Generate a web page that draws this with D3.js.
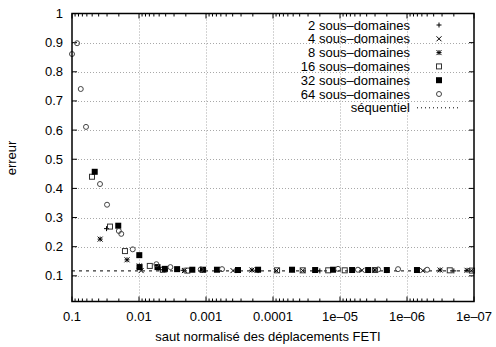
<!DOCTYPE html>
<html>
<head>
<meta charset="utf-8">
<script src="https://cdn.jsdelivr.net/npm/d3@7"></script>
<style>
  body { margin: 0; background: #fff; }
  svg { display: block; font-family: "Liberation Sans", Arial, sans-serif; }
</style>
</head>
<body>
<div id="chart"></div>
<script>
const width = 496;
const height = 347;

// données : [saut, erreur]
const sd2 = [[0.0305, 0.262], [0.0099, 0.128], [0.0048, 0.121], [0.0022, 0.119], [1.67e-4, 0.118],
  [2.0e-5, 0.117], [2.0e-6, 0.118], [2.0e-7, 0.117]];
const sd4 = [[0.0093, 0.118], [0.0021, 0.118], [3.95e-4, 0.118], [8.9e-5, 0.118], [3.6e-5, 0.118],
  [4.7e-6, 0.119], [5.8e-7, 0.118], [1.1e-7, 0.118]];
const sd8 = [[0.038, 0.226], [0.0151, 0.155], [0.0099, 0.134], [0.0042, 0.12], [0.00113, 0.12],
  [2.06e-4, 0.12], [5.2e-5, 0.121], [3.0e-6, 0.12], [3.2e-7, 0.12], [1.27e-7, 0.119]];
const sd16 = [[0.0503, 0.44], [0.0271, 0.269], [0.0162, 0.185], [0.0069, 0.134], [0.0044, 0.121],
  [0.0019, 0.118], [8.7e-5, 0.119], [3.6e-5, 0.119], [1.5e-5, 0.119], [8.5e-6, 0.119],
  [3.0e-6, 0.12], [2.3e-7, 0.119], [1.07e-7, 0.118]];
const sd32 = [[0.0458, 0.457], [0.0204, 0.272], [0.0099, 0.171], [0.0098, 0.13], [0.0053, 0.13],
  [0.0041, 0.124], [0.0027, 0.123], [0.0016, 0.121], [1.11e-3, 0.121], [6.86e-4, 0.121],
  [3.33e-4, 0.12], [1.67e-4, 0.121], [5.2e-5, 0.121], [2.35e-5, 0.12], [1.27e-5, 0.121],
  [6.6e-6, 0.12], [3.8e-6, 0.12], [2.0e-6, 0.12], [7.1e-7, 0.12]];
const sd64 = [[0.1, 0.861], [0.084, 0.898], [0.074, 0.741], [0.0618, 0.611], [0.0382, 0.415],
  [0.030, 0.344], [0.020, 0.254], [0.0184, 0.244], [0.0124, 0.191], [0.0055, 0.14],
  [0.0034, 0.13], [0.0012, 0.122], [5.77e-4, 0.123], [1.07e-5, 0.124], [5.4e-6, 0.121],
  [2.7e-6, 0.122], [1.36e-6, 0.123], [5.0e-7, 0.121]];
const sequentiel = 0.117;

const xTicks = [0.1, 0.01, 0.001, 0.0001, 1e-5, 1e-6, 1e-7];
const xTickLabels = ["0.1", "0.01", "0.001", "0.0001", "1e\u201305", "1e\u201306", "1e\u201307"];
const yTicks = [0.1, 0.2, 0.3, 0.4, 0.5, 0.6, 0.7, 0.8, 0.9, 1];
const yTickLabels = ["0.1", "0.2", "0.3", "0.4", "0.5", "0.6", "0.7", "0.8", "0.9", "1"];

const series = [
  { name: "2 sous\u2013domaines", data: sd2, shape: "plus" },
  { name: "4 sous\u2013domaines", data: sd4, shape: "cross" },
  { name: "8 sous\u2013domaines", data: sd8, shape: "star" },
  { name: "16 sous\u2013domaines", data: sd16, shape: "box" },
  { name: "32 sous\u2013domaines", data: sd32, shape: "fbox" },
  { name: "64 sous\u2013domaines", data: sd64, shape: "circle" }
];

const L = 72, R = 474, T = 13.5, B = 301.5;

const x = d3.scaleLog().domain([0.1, 1e-7]).range([L, R]);
const y = d3.scaleLinear().domain([0.012, 1]).range([B, T]);

const svg = d3.select("#chart").append("svg")
  .attr("width", width).attr("height", height);

// grille
const grid = svg.append("g").attr("stroke", "#a8a8a8").attr("stroke-width", 1)
  .attr("stroke-dasharray", "1,2");
grid.selectAll(".gx").data(xTicks.slice(1, -1)).join("line")
  .attr("x1", d => Math.round(x(d)) + 0.5).attr("x2", d => Math.round(x(d)) + 0.5)
  .attr("y1", T).attr("y2", B);
grid.selectAll(".gy").data(yTicks.slice(0, -1)).join("line")
  .attr("x1", L).attr("x2", R)
  .attr("y1", d => Math.round(y(d)) + 0.5).attr("y2", d => Math.round(y(d)) + 0.5);

// ligne séquentielle
svg.append("line")
  .attr("x1", L).attr("x2", R)
  .attr("y1", y(sequentiel)).attr("y2", y(sequentiel))
  .attr("stroke", "#000").attr("stroke-width", 1).attr("stroke-dasharray", "3,4");

// graduations
const minor = [];
for (let e = -7; e < -1; e++) for (let m = 2; m <= 9; m++) minor.push(m * Math.pow(10, e));
const ticks = svg.append("g").attr("stroke", "#000").attr("stroke-width", 1);
xTicks.forEach(d => {
  const px = x(d);
  ticks.append("line").attr("x1", px).attr("x2", px).attr("y1", B).attr("y2", B - 5);
  ticks.append("line").attr("x1", px).attr("x2", px).attr("y1", T).attr("y2", T + 5);
});
minor.forEach(d => {
  const px = x(d);
  ticks.append("line").attr("x1", px).attr("x2", px).attr("y1", B).attr("y2", B - 3);
  ticks.append("line").attr("x1", px).attr("x2", px).attr("y1", T).attr("y2", T + 3);
});
yTicks.forEach(d => {
  const py = y(d);
  ticks.append("line").attr("x1", L).attr("x2", L + 5).attr("y1", py).attr("y2", py);
  ticks.append("line").attr("x1", R).attr("x2", R - 5).attr("y1", py).attr("y2", py);
});

// étiquettes
svg.append("g").selectAll("text").data(xTicks).join("text")
  .attr("x", d => x(d)).attr("y", 321)
  .attr("text-anchor", "middle").attr("font-size", 13)
  .text((d, i) => xTickLabels[i]);
svg.append("g").selectAll("text").data(yTicks).join("text")
  .attr("x", 63).attr("y", d => y(d) + 4.5)
  .attr("text-anchor", "end").attr("font-size", 13)
  .text((d, i) => yTickLabels[i]);

svg.append("text").attr("x", 268).attr("y", 341)
  .attr("text-anchor", "middle").attr("font-size", 13)
  .text("saut normalisé des déplacements FETI");
svg.append("text").attr("transform", "translate(16,158) rotate(-90)")
  .attr("text-anchor", "middle").attr("font-size", 13)
  .text("erreur");

// symboles façon gnuplot
function marker(g, shape, cx, cy) {
  const s = 2.5;
  if (shape === "plus") {
    g.append("path").attr("d", `M${cx - s},${cy}H${cx + s}M${cx},${cy - s}V${cy + s}`)
      .attr("stroke", "#000").attr("stroke-width", 1);
  } else if (shape === "cross") {
    g.append("path").attr("d", `M${cx - s},${cy - s}L${cx + s},${cy + s}M${cx - s},${cy + s}L${cx + s},${cy - s}`)
      .attr("stroke", "#000").attr("stroke-width", 1);
  } else if (shape === "star") {
    g.append("path").attr("d", `M${cx - s},${cy}H${cx + s}M${cx},${cy - s}V${cy + s}M${cx - s},${cy - s}L${cx + s},${cy + s}M${cx - s},${cy + s}L${cx + s},${cy - s}`)
      .attr("stroke", "#000").attr("stroke-width", 1);
  } else if (shape === "box") {
    g.append("rect").attr("x", cx - s).attr("y", cy - s).attr("width", 2 * s).attr("height", 2 * s)
      .attr("fill", "none").attr("stroke", "#333").attr("stroke-width", 1);
  } else if (shape === "fbox") {
    g.append("rect").attr("x", cx - s - 0.5).attr("y", cy - s - 0.5).attr("width", 2 * s + 1).attr("height", 2 * s + 1)
      .attr("fill", "#000");
  } else {
    g.append("circle").attr("cx", cx).attr("cy", cy).attr("r", s)
      .attr("fill", "none").attr("stroke", "#444").attr("stroke-width", 1);
  }
}

const pts = svg.append("g");
series.forEach(s => {
  s.data.forEach(d => marker(pts, s.shape, x(d[0]), y(d[1])));
});

// légende
const legend = svg.append("g");
series.forEach((s, i) => {
  const ly = 25 + i * 13.8;
  legend.append("text").attr("x", 410).attr("y", ly + 4.5)
    .attr("text-anchor", "end").attr("font-size", 13).text(s.name);
  marker(legend, s.shape, 439, ly);
});
const lyS = 25 + 6 * 13.8;
legend.append("text").attr("x", 410).attr("y", lyS + 4.5)
  .attr("text-anchor", "end").attr("font-size", 13).text("séquentiel");
legend.append("line").attr("x1", 417).attr("x2", 458).attr("y1", lyS).attr("y2", lyS)
  .attr("stroke", "#000").attr("stroke-width", 1).attr("stroke-dasharray", "1,3");

// cadre
svg.append("rect").attr("x", L).attr("y", T).attr("width", R - L).attr("height", B - T)
  .attr("fill", "none").attr("stroke", "#000").attr("stroke-width", 1.5);
</script>
</body>
</html>
